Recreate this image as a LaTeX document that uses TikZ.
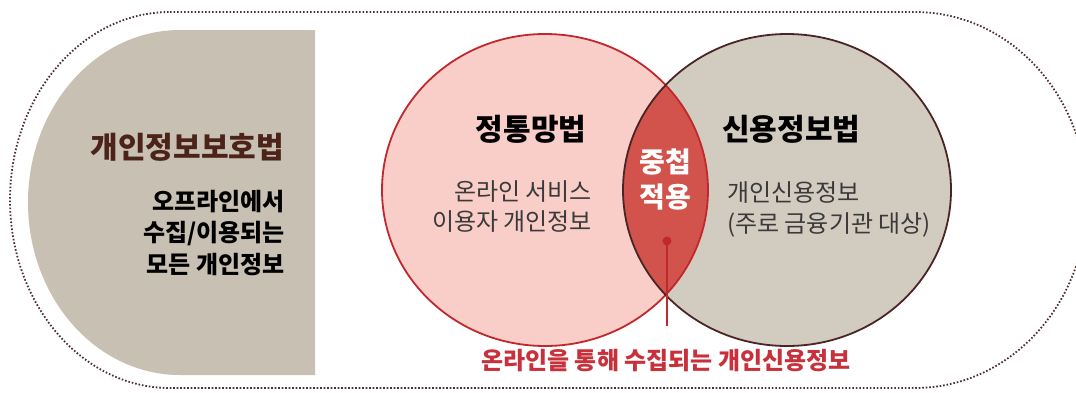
\documentclass[tikz,border=0pt]{standalone}
\usepackage{fontspec}
\setmainfont{Noto Sans CJK KR}
\definecolor{panelgray}{HTML}{C8C0B3}
\definecolor{pinkfill}{HTML}{F9CDC8}
\definecolor{redline}{HTML}{C0282D}
\definecolor{graycircle}{HTML}{D2CBC0}
\definecolor{brownline}{HTML}{4A2525}
\definecolor{lensred}{HTML}{D2524C}
\definecolor{dotbrown}{HTML}{4E3030}
\definecolor{titlebrown}{HTML}{4B2318}
\definecolor{bodygray}{HTML}{3A3A3A}
\definecolor{bottomred}{HTML}{C8313B}
\tikzset{
  dotborder/.style={draw=dotbrown, line width=1.8pt, dash pattern=on 1.6pt off 1.9pt},
  lawtitle/.style={font=\fontsize{30}{36}\selectfont\bfseries, inner sep=0pt},
  bodytxt/.style={font=\fontsize{24}{31}\selectfont, text=bodygray, inner sep=0pt},
  boldtxt/.style={font=\fontsize{24}{31}\selectfont\bfseries, inner sep=0pt},
  lenstxt/.style={font=\fontsize{28}{35}\selectfont\bfseries, text=white, inner sep=0pt, align=center}
}
\begin{document}
\begin{tikzpicture}[x=1pt,y=-1pt]
\useasboundingbox (0,0) rectangle (1076,392);
\clip (0,0) rectangle (1076,392);
% outer dotted stadium
\draw[dotborder] (170,12) -- (915,12) arc[start angle=-90, end angle=90, x radius=172, y radius=188]
  -- (170,388) arc[start angle=90, end angle=270, x radius=160, y radius=188] -- cycle;
% left panel
\fill[panelgray] (315,30) -- (180,30) arc[start angle=-90, end angle=-270, x radius=152, y radius=172.5]
  -- (315,375) -- cycle;
\node[lawtitle, text=titlebrown, anchor=east] (pipa) at (284,147) {개인정보보호법};
\node[boldtxt, anchor=east] (pl1) at (285,202) {오프라인에서};
\node[boldtxt, anchor=east] (pl2) at (285,234) {수집/이용되는};
\node[boldtxt, anchor=east] (pl3) at (285,265) {모든 개인정보};
% circles
\coordinate (cl) at (545,190);
\coordinate (cr) at (787,190);
\fill[pinkfill] (cl) ellipse [x radius=163, y radius=156];
\fill[graycircle] (cr) ellipse [x radius=164, y radius=156];
\begin{scope}
  \clip (cl) ellipse [x radius=163, y radius=156];
  \fill[lensred] (cr) ellipse [x radius=164, y radius=156];
\end{scope}
\draw[redline, line width=1.8pt] (cl) ellipse [x radius=163, y radius=156];
\draw[brownline, line width=1.8pt] (cr) ellipse [x radius=164, y radius=156];
% texts in left circle
\node[lawtitle, text=black] (jt) at (531,129) {정통망법};
\node[bodytxt] (jt1) at (523,192) {온라인 서비스};
\node[bodytxt] (jt2) at (512,222) {이용자 개인정보};
% texts in right circle
\node[lawtitle, text=black, anchor=west] (sy) at (722,129) {신용정보법};
\node[bodytxt, anchor=west] (sy1) at (727,193) {개인신용정보};
\node[bodytxt, anchor=west] (sy2) at (727,225) {(주로 금융기관 대상)};
% lens
\node[lenstxt] (lens1) at (665,162) {중첩};
\node[lenstxt] (lens2) at (665,197) {적용};
\node[circle, fill=redline, minimum size=9pt, inner sep=0pt] (dot) at (667,241) {};
\coordinate (lineend) at (667,326);
\draw[redline, line width=1.3pt] (dot.center) -- (lineend);
% bottom
\node[boldtxt, text=bottomred] (bottom) at (666,361) {온라인을 통해 수집되는 개인신용정보};
\end{tikzpicture}
\end{document}
